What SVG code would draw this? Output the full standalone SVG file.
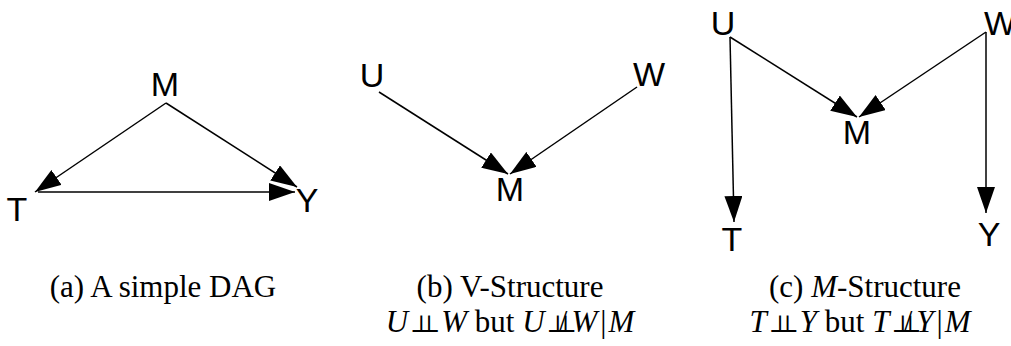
<svg xmlns="http://www.w3.org/2000/svg" width="1011" height="346" viewBox="0 0 1011 346">
<style>
.n{font-family:"Liberation Sans",Arial,sans-serif;font-size:34px;fill:#000;text-anchor:middle}
.c{font-family:"Liberation Serif","DejaVu Serif",serif;font-size:31px;fill:#000;text-anchor:middle}
.i{font-style:italic}
.p{font-size:24px}
.e{stroke:#000;stroke-width:1.5;fill:none;marker-end:url(#ah)}
</style>
<defs>
<marker id="ah" markerUnits="userSpaceOnUse" viewBox="0 0 26 18" refX="26" refY="9" markerWidth="26" markerHeight="18" orient="auto">
<path d="M0,0 L26,9 L0,18 z" fill="#000"/>
</marker>
</defs>
<rect width="1011" height="346" fill="#fff"/>
<g id="connectors">
<line class="e" x1="166" y1="103" x2="35" y2="192"/>
<line class="e" x1="166" y1="103" x2="297" y2="187"/>
<line class="e" x1="38" y1="192" x2="295" y2="192"/>
<line class="e" x1="379" y1="92" x2="508" y2="174"/>
<line class="e" x1="637" y1="87" x2="510" y2="174"/>
<line class="e" x1="730" y1="37" x2="857" y2="117"/>
<line class="e" x1="986" y1="32" x2="859" y2="117"/>
<line class="e" x1="730" y1="37" x2="734" y2="222"/>
<line class="e" x1="986" y1="32" x2="986" y2="213"/>
</g>
<g id="a-M"><text class="n" x="165" y="96">M</text></g>
<g id="a-T"><text class="n" x="17" y="221">T</text></g>
<g id="a-Y"><text class="n" x="307" y="212">Y</text></g>
<g id="b-U"><text class="n" x="372" y="87">U</text></g>
<g id="b-W"><text class="n" x="649" y="86">W</text></g>
<g id="b-M"><text class="n" x="510" y="201">M</text></g>
<g id="c-U"><text class="n" x="723" y="35">U</text></g>
<g id="c-W"><text class="n" x="984" y="35" style="text-anchor:start">W</text></g>
<g id="c-M"><text class="n" x="857" y="144">M</text></g>
<g id="c-T"><text class="n" x="732" y="251">T</text></g>
<g id="c-Y"><text class="n" x="989" y="246">Y</text></g>
<g id="captions">
<text class="c" x="163" y="297">(a) A simple DAG</text>
<text class="c" x="510" y="297">(b) V-Structure</text>
<text class="c" x="510" y="332"><tspan class="i">U</tspan><tspan class="p" dx="2">⊥</tspan><tspan class="p" dx="-15">⊥</tspan><tspan class="i" dx="1">W</tspan> but <tspan class="i">U</tspan><tspan class="p" dx="2">⊥</tspan><tspan class="p" dx="-15">⊥</tspan><tspan dx="-18">/</tspan><tspan dx="4" class="i">W</tspan><tspan dx="3">|</tspan><tspan class="i" dx="2">M</tspan></text>
<text class="c" x="865" y="297">(c) <tspan class="i">M</tspan>-Structure</text>
<text class="c" x="860" y="332"><tspan class="i">T</tspan><tspan class="p" dx="2">⊥</tspan><tspan class="p" dx="-15">⊥</tspan><tspan class="i" dx="1">Y</tspan> but <tspan class="i">T</tspan><tspan class="p" dx="2">⊥</tspan><tspan class="p" dx="-15">⊥</tspan><tspan dx="-18">/</tspan><tspan dx="4" class="i">Y</tspan><tspan dx="3">|</tspan><tspan class="i" dx="2">M</tspan></text>
</g>
</svg>
